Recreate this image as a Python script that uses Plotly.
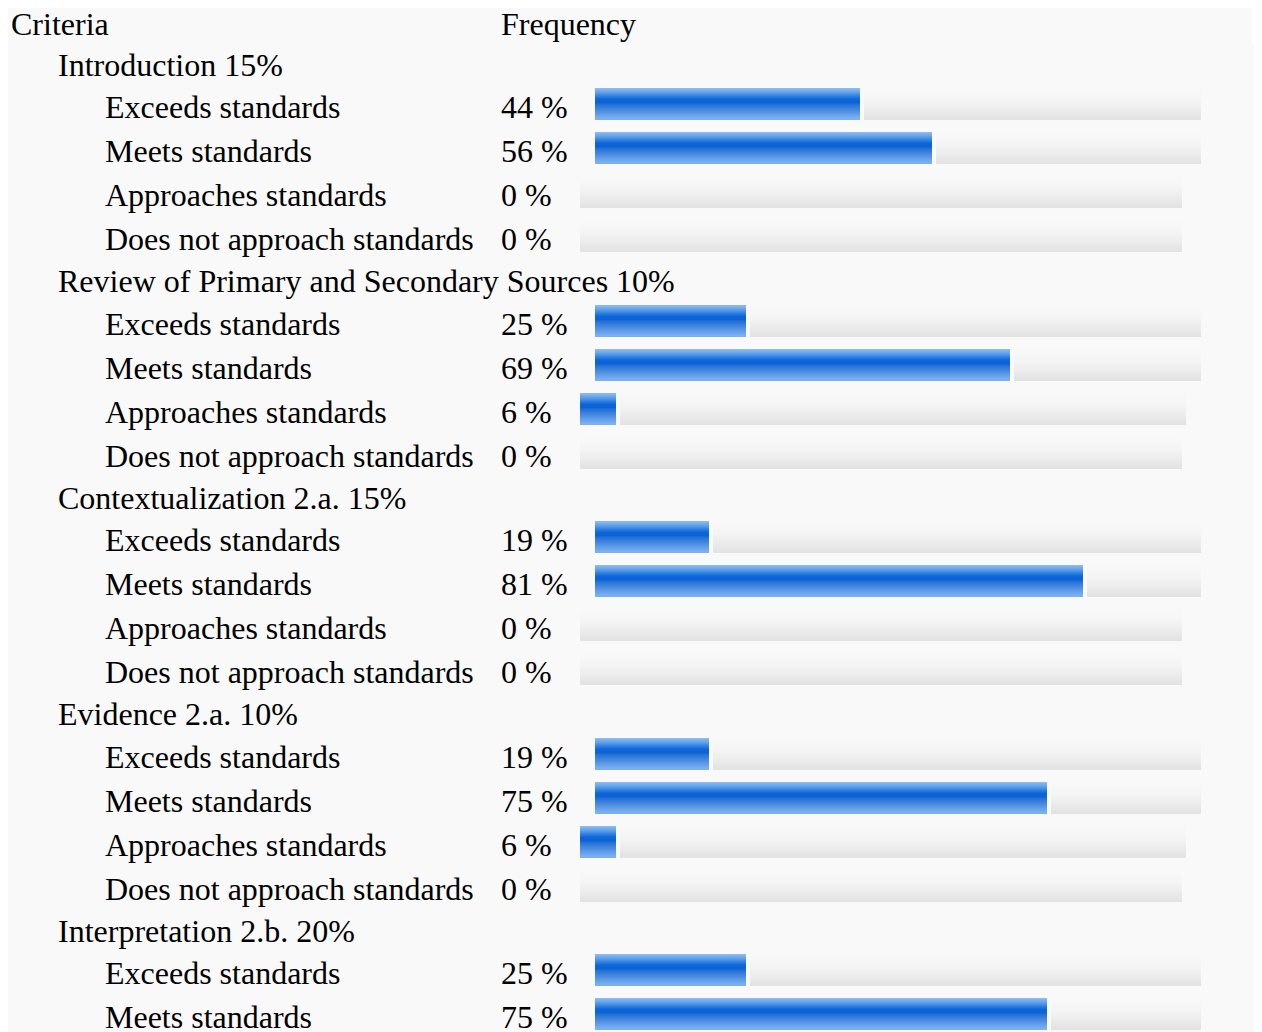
import plotly.graph_objects as go

# ---------------- data ----------------
header_labels = ["Criteria", "Frequency"]
criteria = [
    "Introduction 15%",
    "Review of Primary and Secondary Sources 10%",
    "Contextualization 2.a. 15%",
    "Evidence 2.a. 10%",
    "Interpretation 2.b. 20%",
]
levels = ["Exceeds standards", "Meets standards", "Approaches standards",
          "Does not approach standards"]
intro_pct = [44, 56, 0, 0]
review_pct = [25, 69, 6, 0]
context_pct = [19, 81, 0, 0]
evidence_pct = [19, 75, 6, 0]
interp_pct = [25, 75]
group_values = [intro_pct, review_pct, context_pct, evidence_pct, interp_pct]

# ---------------- layout constants ----------------
OFF = 8                       # page body margin in the browser
W, H = 1262 - OFF, 1032 - OFF
X0 = 595.0 - OFF              # pixel where 0 % starts
SCALE = 6.02                  # pixels per percent
SHIFT_1DIGIT = -15.0 / SCALE  # bars sit closer to a 1-digit label
GAP = 4.0 / SCALE
BAR_H = 31.0
HEAD_STEP = 42.25
ITEM_STEP = 44.0
TEXT_DY = 3.0
TEXT_DX = -2.5
FONT = "Liberation Serif"
FS = 32

# row positions (pixel units on a reversed y axis)
group_rows = []
item_rows = []   # (center, label, value)
cur = 61.75 - OFF
for g, vals in zip(criteria, group_values):
    group_rows.append((cur, g))
    cur += HEAD_STEP
    for i, v in enumerate(vals):
        item_rows.append((cur, levels[i], v))
        cur += ITEM_STEP
    cur += HEAD_STEP - ITEM_STEP

centers = [r[0] for r in item_rows]
vals = [r[2] for r in item_rows]
bases = [SHIFT_1DIGIT if v < 10 else 0.0 for v in vals]
gray_base = [b + v + (GAP if v > 0 else 0.0) for b, v in zip(bases, vals)]
gray_len = [100 - v for v in vals]


def interp(stops, t):
    for (t0, c0), (t1, c1) in zip(stops, stops[1:]):
        if t0 <= t <= t1:
            f = (t - t0) / (t1 - t0) if t1 > t0 else 0
            c0 = [int(c0[i:i + 2], 16) for i in (1, 3, 5)]
            c1 = [int(c1[i:i + 2], 16) for i in (1, 3, 5)]
            return "rgb(%d,%d,%d)" % tuple(round(a + (b - a) * f) for a, b in zip(c0, c1))
    return stops[-1][1]


blue_stops = [(0.0, "#8fbef3"), (0.12, "#6aa6ec"), (0.25, "#3584e2"),
              (0.36, "#0d66da"), (0.46, "#0a62d4"), (0.56, "#2a74d8"),
              (0.72, "#4a8be0"), (0.86, "#65a0ea"), (1.0, "#7db2f2")]
gray_stops = [(0.0, "#f9f9f9"), (0.35, "#f5f5f5"), (0.7, "#ececec"), (1.0, "#e2e2e2")]

fig = go.Figure()
NS = 31
sh = BAR_H / NS
for k in range(NS):
    t = (k + 0.5) / NS
    fig.add_trace(go.Bar(orientation="h", y=centers, x=gray_len, base=gray_base,
                         width=sh * 1.15, offset=-BAR_H / 2 + k * sh,
                         marker=dict(color=interp(gray_stops, t), line=dict(width=0)),
                         hoverinfo="skip", showlegend=False))
for k in range(NS):
    t = (k + 0.5) / NS
    fig.add_trace(go.Bar(orientation="h", y=centers, x=vals, base=bases,
                         width=sh * 1.15, offset=-BAR_H / 2 + k * sh,
                         marker=dict(color=interp(blue_stops, t), line=dict(width=0)),
                         hoverinfo="skip", showlegend=False))

ann = []


def text(xpx, y, s):
    ann.append(dict(x=(xpx - OFF + TEXT_DX) / W, xref="paper", y=y + TEXT_DY, yref="y",
                    text=s, showarrow=False, xanchor="left", yanchor="middle",
                    font=dict(family=FONT, size=FS, color="#000000")))


text(11, 20.75 - OFF, header_labels[0])
text(501, 20.75 - OFF, header_labels[1])
for c, g in group_rows:
    text(58, c, g)
for c, lab, v in item_rows:
    text(105, c, lab)
    text(501, c, "%d %%" % v)

HEAD_BOTTOM = 44 - OFF
shapes = [
    dict(type="rect", xref="paper", yref="paper", x0=0, x1=(1252 - OFF) / W,
         y0=1, y1=1 - HEAD_BOTTOM / H,
         fillcolor="#f9f9f9", line=dict(width=0), layer="below"),
    dict(type="rect", xref="paper", yref="paper", x0=0, x1=1, y0=0, y1=1 - HEAD_BOTTOM / H,
         fillcolor="#f9f9f9", line=dict(width=0), layer="below"),
]

fig.update_layout(
    width=W, height=H, margin=dict(l=0, r=0, t=0, b=0),
    paper_bgcolor="#ffffff", plot_bgcolor="rgba(0,0,0,0)",
    barmode="overlay", bargap=0,
    xaxis=dict(range=[-X0 / SCALE, (W - X0) / SCALE], visible=False, fixedrange=True),
    yaxis=dict(range=[H, 0], visible=False, fixedrange=True),
    annotations=ann, shapes=shapes, showlegend=False,
)
fig.write_html("out.html", config={"displayModeBar": False})
